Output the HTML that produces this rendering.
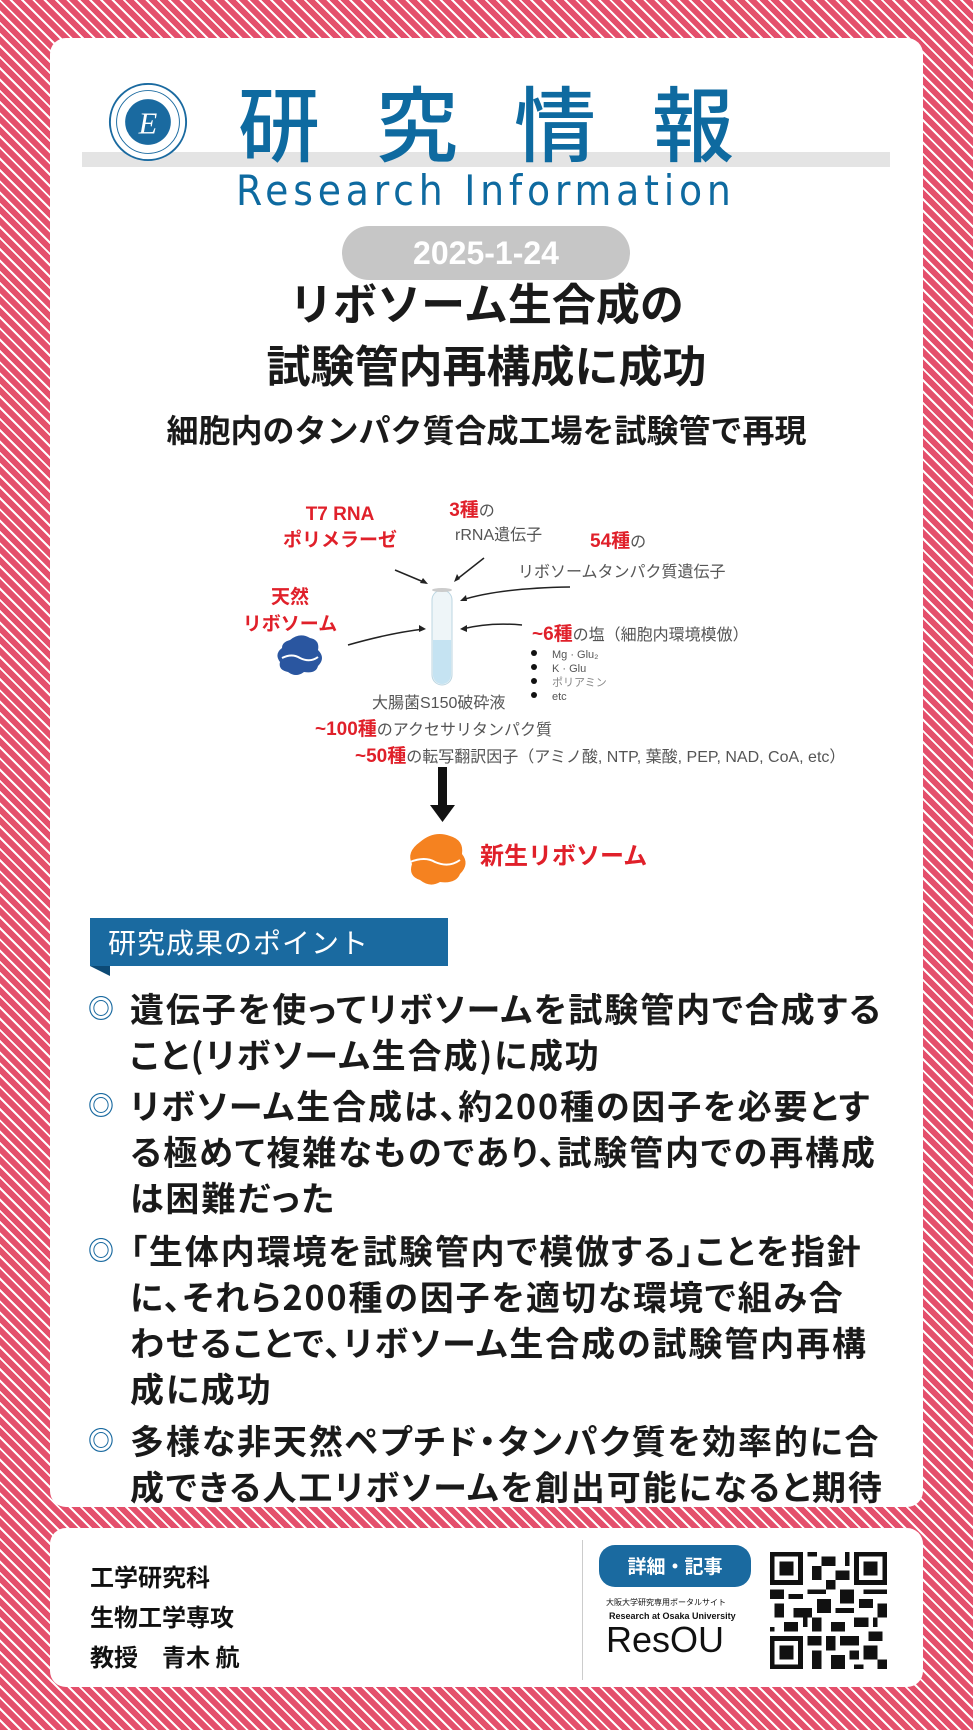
<!DOCTYPE html>
<html><head><meta charset="utf-8"><style>
*{margin:0;padding:0;box-sizing:border-box}
body{width:973px;height:1730px;overflow:hidden;position:relative;font-family:"Liberation Sans","Noto Sans CJK JP",sans-serif;
background:repeating-linear-gradient(45deg,#e4506c 0,#e4506c 6px,#fff 6px,#fff 8px);}
.card{position:absolute;background:#fff;border-radius:16px}
.abs{position:absolute;white-space:nowrap}
.jp{font-family:"Noto Sans CJK JP",sans-serif}
.pt{position:absolute;left:90px;white-space:nowrap;font-family:"Noto Sans CJK JP",sans-serif;font-weight:700;font-size:34px;line-height:46px;color:#1a1a1a;padding-left:40px;font-feature-settings:"palt";letter-spacing:1.9px}
.pt:before{content:"◎";position:absolute;left:-2px;top:0;color:#1a6aa0;font-size:26px;letter-spacing:0}
</style></head><body>
<div class="card" style="left:50px;top:38px;width:873px;height:1469px"></div>
<div class="card" style="left:50px;top:1528px;width:873px;height:159px"></div>

<div style="position:absolute;left:82px;top:152px;width:808px;height:15px;background:#e4e4e4"></div>
<svg class="abs" style="left:108px;top:82px" width="80" height="80" viewBox="0 0 84 84">
<circle cx="42" cy="42" r="40" fill="#fff" stroke="#1a6aa0" stroke-width="2"/>
<circle cx="42" cy="42" r="33" fill="none" stroke="#1a6aa0" stroke-width="1"/>
<circle cx="42" cy="42" r="24" fill="#1a6aa0"/>
<text x="42" y="54" font-size="32" font-style="italic" font-family="Liberation Serif" fill="#fff" text-anchor="middle">E</text>
</svg>
<div class="abs jp" style="left:238px;top:70px;font-size:82px;line-height:100px;color:#0e6aa0;letter-spacing:56px;font-weight:500">研究情報</div>
<div class="abs" style="left:236px;top:166px;font-size:42px;line-height:50px;color:#0e6aa0;font-family:'DejaVu Sans Condensed','Liberation Sans',sans-serif;letter-spacing:4.8px">Research Information</div>
<div style="position:absolute;left:342px;top:226px;width:288px;height:54px;border-radius:27px;background:#c6c6c6;color:#fff;font-weight:700;font-size:32px;line-height:54px;text-align:center">2025-1-24</div>

<div class="abs jp" style="left:0;width:973px;text-align:center;top:270px;font-size:44px;line-height:62px;font-weight:700;color:#1a1a1a">リボソーム生合成の<br>試験管内再構成に成功</div>
<div class="abs jp" style="left:0;width:973px;text-align:center;top:408px;font-size:32px;line-height:42px;font-weight:700;color:#1a1a1a">細胞内のタンパク質合成工場を試験管で再現</div>

<svg class="abs" style="left:250px;top:490px;overflow:visible" width="620" height="400" viewBox="0 0 620 400" font-family="Liberation Sans,Noto Sans CJK JP,sans-serif">
<g fill="#e0202a" font-weight="700">
<text x="90" y="30" font-size="19" text-anchor="middle">T7 RNA</text>
<text x="90" y="56" font-size="19" text-anchor="middle">ポリメラーゼ</text>
<text x="222" y="26" font-size="19" text-anchor="middle">3種<tspan fill="#555" font-weight="400" font-size="16">の</tspan></text>
<text x="340" y="57" font-size="19">54種<tspan fill="#555" font-weight="400" font-size="16">の</tspan></text>
<text x="40" y="113" font-size="19" text-anchor="middle">天然</text>
<text x="40" y="140" font-size="19" text-anchor="middle">リボソーム</text>
<text x="282" y="150" font-size="19">~6種<tspan fill="#555" font-weight="400" font-size="16">の塩（細胞内環境模倣）</tspan></text>
<text x="65" y="245" font-size="19">~100種<tspan fill="#555" font-weight="400" font-size="16">のアクセサリタンパク質</tspan></text>
<text x="105" y="272" font-size="19">~50種<tspan fill="#555" font-weight="400" font-size="16">の転写翻訳因子（アミノ酸, NTP, 葉酸, PEP, NAD, CoA, etc）</tspan></text>
<text x="230" y="374" font-size="24">新生リボソーム</text>
</g>
<g fill="#555" font-size="16">
<text x="205" y="50">rRNA遺伝子</text>
<text x="268" y="87">リボソームタンパク質遺伝子</text>
<text x="122" y="218">大腸菌S150破砕液</text>
<g font-size="11"><text x="302" y="168">Mg · Glu₂</text><text x="302" y="182">K · Glu</text><text x="302" y="196" fill="#888">ポリアミン</text><text x="302" y="210">etc</text></g>
</g>
<g fill="#111"><circle cx="284" cy="163" r="3"/><circle cx="284" cy="177" r="3"/><circle cx="284" cy="191" r="3"/><circle cx="284" cy="205" r="3"/></g>
<rect x="182" y="100" width="20" height="95" rx="10" fill="#eef5f8" stroke="#bcd6e2"/>
<path d="M183 150 H201 V185 A9 9 0 0 1 183 185 Z" fill="#c5e3f2"/>
<ellipse cx="192" cy="100" rx="10" ry="2" fill="#ccc"/>
<g stroke="#222" stroke-width="1.5" fill="none">
<path d="M145 80 L176 93"/><path d="M234 68 L206 90"/><path d="M320 97 Q250 98 212 110"/>
<path d="M98 155 Q140 143 174 139"/><path d="M272 135 Q240 132 212 139"/>
</g>
<g fill="#222"><path d="M178 94 l-8 -1 l3 -5z"/><path d="M204 92 l3 -8 l3 5z"/><path d="M210 111 l6 -6 l1 6z"/><path d="M176 139 l-7 -4 l0 7z"/><path d="M210 139 l7 -4 l0 7z"/></g>
<path d="M40 150 q10 -8 20 -2 q10 2 8 12 q8 8 0 16 q-2 8 -14 6 q-8 6 -16 0 q-10 -2 -8 -10 q-6 -8 2 -14 q0 -6 8 -8z" fill="#2a56a0"/>
<path d="M32 168 q10 -5 18 0 q10 5 18 -1" stroke="#fff" stroke-width="2" fill="none"/>
<rect x="188" y="277" width="9" height="40" fill="#111"/><path d="M180 315 h25 l-12.5 17z" fill="#111"/>
<path d="M170 352 q14 -12 30 -6 q14 4 12 18 q8 10 -2 20 q-4 10 -20 8 q-10 6 -20 -2 q-12 -4 -8 -16 q-6 -12 8 -22z" fill="#f58220"/>
<path d="M160 372 q15 -6 25 0 q14 6 25 -2" stroke="#fff" stroke-width="2" fill="none"/>
</svg>

<div style="position:absolute;left:90px;top:918px;width:358px;height:48px;background:#1a6aa0;color:#fff;font-family:'Noto Sans CJK JP',sans-serif;font-size:28px;line-height:48px;padding-left:18px;letter-spacing:1px">研究成果のポイント</div>
<div style="position:absolute;left:90px;top:966px;width:0;height:0;border-top:10px solid #0d4a75;border-left:20px solid transparent"></div>

<div class="pt" style="top:985px">遺伝子を使ってリボソームを試験管内で合成する<br>こと(リボソーム生合成)に成功</div>
<div class="pt" style="top:1082px">リボソーム生合成は、約200種の因子を必要とす<br>る極めて複雑なものであり、試験管内での再構成<br>は困難だった</div>
<div class="pt" style="top:1227px">「生体内環境を試験管内で模倣する」ことを指針<br>に、それら200種の因子を適切な環境で組み合<br>わせることで、リボソーム生合成の試験管内再構<br>成に成功</div>
<div class="pt" style="top:1417px">多様な非天然ペプチド・タンパク質を効率的に合<br>成できる人工リボソームを創出可能になると期待</div>

<div class="abs jp" style="left:90px;top:1556px;font-size:24px;line-height:40px;font-weight:700;color:#111">工学研究科<br>生物工学専攻<br>教授　青木 航</div>
<div style="position:absolute;left:582px;top:1540px;width:1px;height:140px;background:#ccc"></div>
<div class="jp" style="position:absolute;left:599px;top:1545px;width:152px;height:42px;border-radius:16px;background:#1a6aa0;color:#fff;font-weight:700;font-size:19px;line-height:42px;text-align:center">詳細・記事</div>
<div class="abs jp" style="left:606px;top:1597px;font-size:8px;color:#111">大阪大学研究専用ポータルサイト</div>
<div class="abs" style="left:609px;top:1611px;font-size:9px;font-weight:700;color:#111">Research at Osaka University</div>
<div class="abs" style="left:606px;top:1620px;font-size:36px;line-height:40px;color:#111">ResOU</div>
<svg class="abs" style="left:770px;top:1552px" width="117" height="117" viewBox="0 0 25 25" shape-rendering="crispEdges">
<rect width="25" height="25" fill="#fff"/>
<g fill="#111"><path d="M0 0h7v7h-7zM18 0h7v7h-7zM0 18h7v7h-7z"/></g>
<g fill="#fff"><path d="M1 1h5v5h-5zM19 1h5v5h-5zM1 19h5v5h-5z"/></g>
<g fill="#111"><path d="M2 2h3v3h-3zM20 2h3v3h-3zM2 20h3v3h-3z"/>
<path d="M8 0h2v1h-2zM11 1h3v2h-3zM9 3h2v3h-2zM14 4h3v2h-3zM12 6h2v2h-2zM8 8h4v1h-4zM0 8h3v2h-3zM4 9h3v1h-3zM15 8h3v3h-3zM20 8h5v1h-5zM19 10h3v2h-3zM23 11h2v3h-2zM1 11h2v3h-2zM5 12h4v2h-4zM10 10h3v3h-3zM14 12h4v1h-4zM9 14h2v3h-2zM13 15h3v2h-3zM18 14h3v2h-3zM3 15h3v2h-3zM0 16h1v1h-1zM8 18h3v2h-3zM12 18h2v3h-2zM15 18h4v2h-4zM21 17h3v2h-3zM9 21h2v4h-2zM13 22h3v3h-3zM17 21h2v2h-2zM20 20h3v3h-3zM23 23h2v2h-2zM18 24h2v1h-2zM16 0h1v3h-1zM7 13h1v3h-1zM22 14h1v2h-1z"/></g>
</svg>
</body></html>
